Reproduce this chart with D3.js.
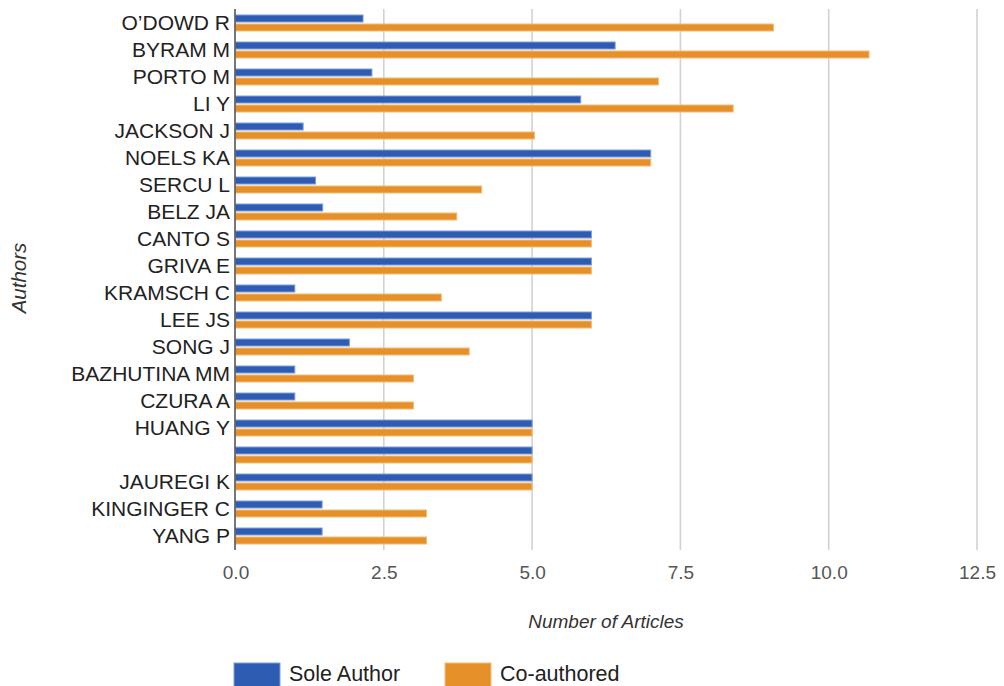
<!DOCTYPE html>
<html>
<head>
<meta charset="utf-8">
<script src="https://cdn.jsdelivr.net/npm/d3@7/dist/d3.min.js"></script>
<style>
  html, body { margin: 0; padding: 0; background: #fff; }
  svg { display: block; font-family: "Liberation Sans", Arial, sans-serif; }
</style>
</head>
<body>
<svg id="chart" width="1004" height="686"></svg>
<script>
// Authors, in display order (one row has no name)
const authors = ["O\u2019DOWD R", "BYRAM M", "PORTO M", "LI Y", "JACKSON J", "NOELS KA",
  "SERCU L", "BELZ JA", "CANTO S", "GRIVA E", "KRAMSCH C", "LEE JS", "SONG J",
  "BAZHUTINA MM", "CZURA A", "HUANG Y", "", "JAUREGI K", "KINGINGER C", "YANG P"];

// Number of articles per author
const soleAuthor = [2.15, 6.4, 2.3, 5.82, 1.14, 7.0, 1.35, 1.47, 6.0, 6.0, 1.0, 6.0, 1.92,
  1.0, 1.0, 5.0, 5.0, 5.0, 1.46, 1.46];
const coAuthored = [9.07, 10.68, 7.13, 8.39, 5.04, 7.0, 4.15, 3.73, 6.0, 6.0, 3.47, 6.0, 3.94,
  3.0, 3.0, 5.0, 5.0, 5.0, 3.22, 3.22];

const seriesNames = ["Sole Author", "Co-authored"];
const seriesColors = ["#2f5cb3", "#e6902a"];
const seriesStrokes = ["#7f9ddb", "#f2bd78"];
const xTicks = [0, 2.5, 5, 7.5, 10, 12.5];

const rows = authors.map((name, i) => ({ i, name, values: [soleAuthor[i], coAuthored[i]] }));

const svg = d3.select("#chart");

const x = d3.scaleLinear().domain([0, 12.5]).range([235.5, 977]);
const y = d3.scaleBand()
  .domain(d3.range(authors.length))
  .range([9.5, 549.5])
  .paddingInner(11 / 27)
  .paddingOuter(5.5 / 27);
const ySeries = d3.scaleBand()
  .domain([0, 1])
  .range([0, y.bandwidth()])
  .paddingInner(0.22);

// Vertical gridlines
svg.append("g")
  .selectAll("line")
  .data(xTicks.filter(t => t > 0))
  .join("line")
  .attr("x1", d => x(d)).attr("x2", d => x(d))
  .attr("y1", 9).attr("y2", 550)
  .attr("stroke", "#d2d2d2")
  .attr("stroke-width", 1.6);

// Bars
const groups = svg.append("g")
  .selectAll("g")
  .data(rows)
  .join("g")
  .attr("transform", d => `translate(0,${y(d.i)})`);

groups.selectAll("rect")
  .data(d => d.values.map((v, s) => ({ v, s })))
  .join("rect")
  .attr("x", x(0))
  .attr("y", d => ySeries(d.s))
  .attr("width", d => x(d.v) - x(0))
  .attr("height", ySeries.bandwidth())
  .attr("fill", d => seriesColors[d.s])
  .attr("stroke", d => seriesStrokes[d.s])
  .attr("stroke-width", 1);

// Category labels
svg.append("g")
  .selectAll("text")
  .data(rows)
  .join("text")
  .attr("x", 230)
  .attr("y", d => y(d.i) + y.bandwidth() / 2)
  .attr("dy", "0.35em")
  .attr("text-anchor", "end")
  .attr("font-size", 21)
  .attr("fill", "#222")
  .text(d => d.name);

// Baseline axis
svg.append("line")
  .attr("x1", 235).attr("x2", 235)
  .attr("y1", 9).attr("y2", 550)
  .attr("stroke", "#555")
  .attr("stroke-width", 1.6);

// X tick labels
const xAxis = d3.axisBottom(x)
  .tickValues(xTicks)
  .tickFormat(d3.format(".1f"))
  .tickSize(0)
  .tickPadding(0);
const xg = svg.append("g")
  .attr("transform", "translate(0,565)")
  .call(xAxis);
xg.select(".domain").remove();
xg.selectAll("text")
  .attr("dy", null)
  .attr("y", 14)
  .attr("font-size", 19)
  .attr("font-family", "'Liberation Sans', Arial, sans-serif")
  .attr("fill", "#555");

// Axis titles
svg.append("text")
  .attr("x", 606).attr("y", 628)
  .attr("text-anchor", "middle")
  .attr("font-size", 19)
  .attr("font-style", "italic")
  .attr("fill", "#333")
  .text("Number of Articles");

svg.append("text")
  .attr("transform", "translate(26,278) rotate(-90)")
  .attr("text-anchor", "middle")
  .attr("font-size", 20.5)
  .attr("font-style", "italic")
  .attr("fill", "#333")
  .text("Authors");

// Legend
const legendX = [234, 445];
const legend = svg.append("g")
  .selectAll("g")
  .data(seriesNames)
  .join("g")
  .attr("transform", (d, i) => `translate(${legendX[i]},663)`);
legend.append("rect")
  .attr("width", 46).attr("height", 26)
  .attr("fill", (d, i) => seriesColors[i])
  .attr("stroke", (d, i) => seriesStrokes[i])
  .attr("stroke-width", 1);
legend.append("text")
  .attr("x", 55).attr("y", 18)
  .attr("font-size", 21.5)
  .attr("fill", "#222")
  .text(d => d);
</script>
</body>
</html>
